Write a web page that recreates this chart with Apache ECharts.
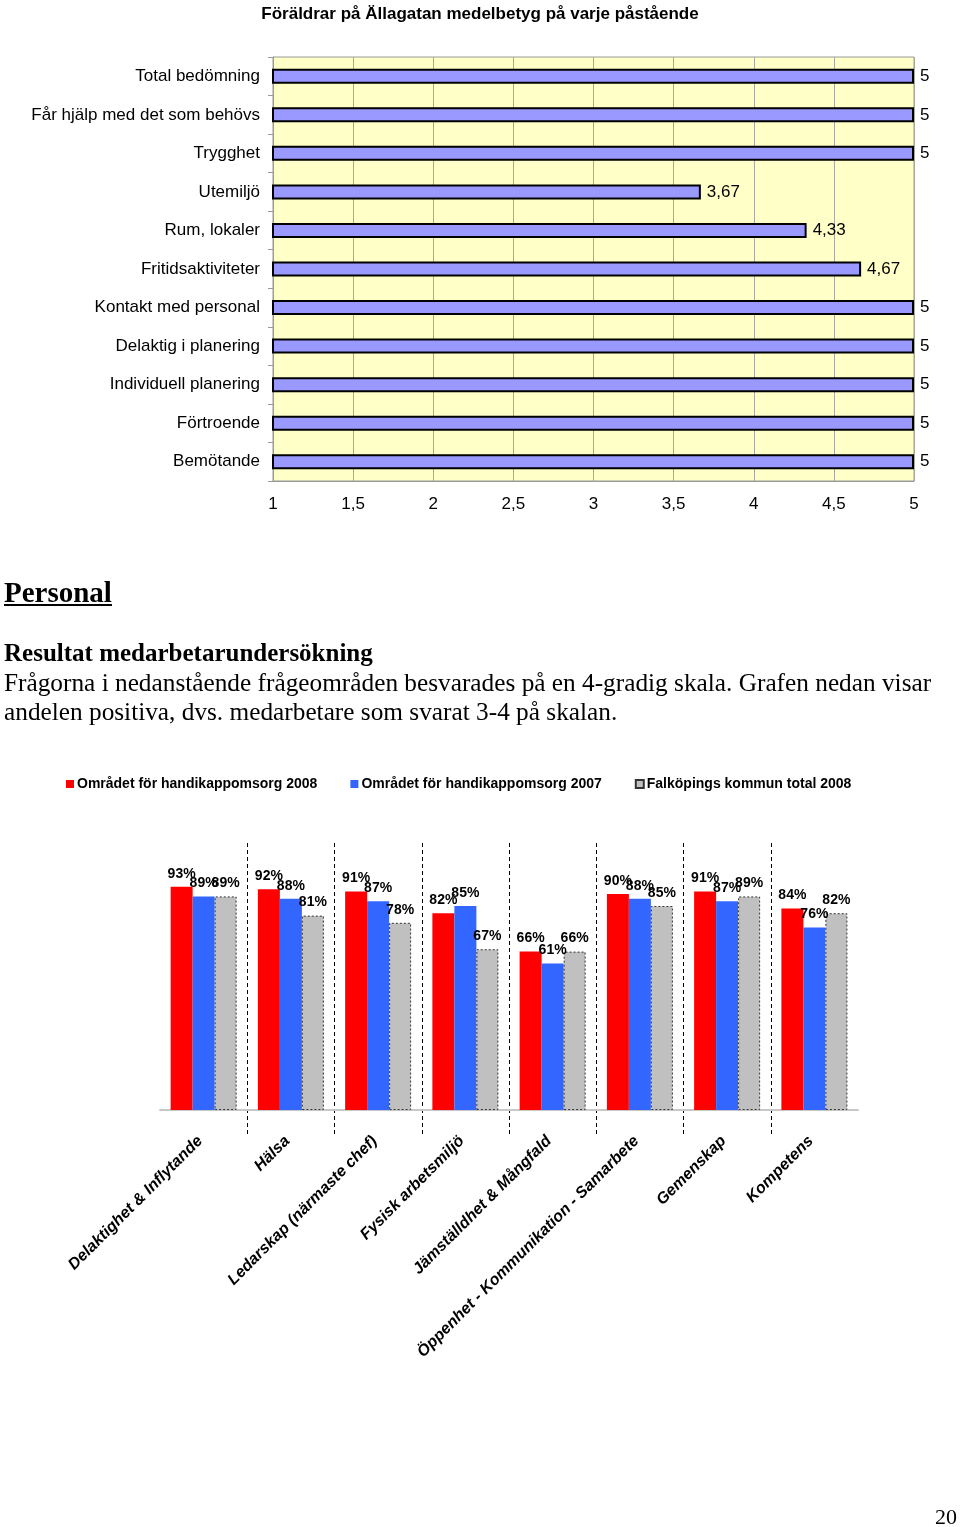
<!DOCTYPE html>
<html><head><meta charset="utf-8">
<script src="https://cdn.jsdelivr.net/npm/echarts@6/dist/echarts.min.js"></script>
<style>
html,body{margin:0;padding:0;background:#fff;}
#page{position:relative;width:960px;height:1527px;overflow:hidden;}
#chart{position:absolute;left:0;top:0;width:960px;height:1527px;}
.t{position:absolute;font-family:"Liberation Serif","Times New Roman",serif;color:#000;white-space:nowrap;}
</style></head>
<body><div id="page"><div id="chart"></div>
<div class="t" style="left:4px;top:577px;font-size:29px;line-height:30px;font-weight:bold;text-decoration:underline;">Personal</div>
<div class="t" style="left:4px;top:639px;font-size:25px;line-height:28px;font-weight:bold;">Resultat medarbetarundersökning</div>
<div class="t" style="left:4px;top:668px;font-size:25.3px;line-height:29.3px;">Frågorna i nedanstående frågeområden besvarades på en 4-gradig skala. Grafen nedan visar<br>andelen positiva, dvs. medarbetare som svarat 3-4 på skalan.</div>
<div class="t" style="left:935px;top:1505px;font-size:22px;line-height:24px;">20</div>
</div>
<script>
const parentTitle = 'Föräldrar på Ällagatan medelbetyg på varje påstående';
const parentCategories = ['Total bedömning','Får hjälp med det som behövs','Trygghet','Utemiljö','Rum, lokaler','Fritidsaktiviteter','Kontakt med personal','Delaktig i planering','Individuell planering','Förtroende','Bemötande'];
const parentScores = [5,5,5,3.67,4.33,4.67,5,5,5,5,5];

const staffCategories = ['Delaktighet & Inflytande','Hälsa','Ledarskap (närmaste chef)','Fysisk arbetsmiljö','Jämställdhet & Mångfald','Öppenhet - Kommunikation - Samarbete','Gemenskap','Kompetens'];
const seriesNames = ['Området för handikappomsorg 2008','Området för handikappomsorg 2007','Falköpings kommun total 2008'];
const area2008 = [93,92,91,82,66,90,91,84];
const area2007 = [89,88,87,85,61,88,87,76];
const municipality2008 = [89,81,78,67,66,85,89,82];

const comma = v => String(v).replace('.', ',');
const sans = '"Liberation Sans", Arial, sans-serif';

const pctLabel = {show:true, position:'top', distance:6, formatter:'{c}%', fontSize:14, fontWeight:'bold', color:'#000', fontFamily:sans};

const chart = echarts.init(document.getElementById('chart'), null, {renderer:'canvas'});
chart.setOption({
  animation:false,
  textStyle:{fontFamily:sans},
  title:{text:parentTitle,left:'center',top:1,textStyle:{fontFamily:sans,fontSize:17,fontWeight:'bold',color:'#000'}},
  legend:{
    left:61, top:772, itemWidth:8, itemHeight:8, itemGap:33, icon:'rect',
    data:seriesNames,
    textStyle:{fontFamily:sans,fontSize:14,fontWeight:'bold',color:'#000',padding:[0,0,0,-2]}
  },
  grid:[
    {left:273, top:57, width:641, height:424, show:true, backgroundColor:'#FFFFC8', borderColor:'#9a9a9a', borderWidth:1, containLabel:false},
    {left:160, top:843, width:698, height:292, containLabel:false}
  ],
  xAxis:[
    {gridIndex:0, type:'value', min:1, max:5, interval:0.5,
     axisLine:{show:true,lineStyle:{color:'#9a9a9a'}}, axisTick:{show:false},
     axisLabel:{formatter:comma, fontSize:17, color:'#000', margin:15, fontFamily:sans},
     splitLine:{show:true,lineStyle:{color:'#a8a8a0',width:1}}},
    {gridIndex:1, type:'category', data:staffCategories,
     axisLine:{show:true,onZero:true,lineStyle:{color:'#c8c8c8',width:2}},
     axisTick:{show:false},
     axisLabel:{rotate:45, interval:0, fontSize:16, fontWeight:'bold', fontStyle:'italic', color:'#000', margin:0, padding:[0,5,0,0], fontFamily:sans},
     splitLine:{show:true, showMinLine:false, showMaxLine:false, interval:0, lineStyle:{color:'#000',width:1,type:[4,3]}}}
  ],
  yAxis:[
    {gridIndex:0, type:'category', data:parentCategories, inverse:true,
     axisLine:{show:true,lineStyle:{color:'#9a9a9a'}},
     axisTick:{show:true,length:5,lineStyle:{color:'#9a9a9a'}},
     axisLabel:{fontSize:17,color:'#000',margin:13,fontFamily:sans},
     splitLine:{show:false}},
    {gridIndex:1, type:'value', min:-10.4, max:111.25, show:false, splitLine:{show:false}}
  ],
  series:[
    {type:'bar', xAxisIndex:0, yAxisIndex:0, data:parentScores, barWidth:15,
     itemStyle:{color:'#9999FF', borderColor:'#000', borderWidth:2},
     label:{show:true, position:'right', distance:6, formatter:p=>comma(p.value), fontSize:17, color:'#000', fontFamily:sans}},
    {name:seriesNames[0], type:'bar', xAxisIndex:1, yAxisIndex:1, data:area2008, barWidth:22, barGap:'0%',
     itemStyle:{color:'#FF0000'}, label:pctLabel},
    {name:seriesNames[1], type:'bar', xAxisIndex:1, yAxisIndex:1, data:area2007, barWidth:22, barGap:'0%',
     itemStyle:{color:'#3366FF'}, label:pctLabel},
    {name:seriesNames[2], type:'bar', xAxisIndex:1, yAxisIndex:1, data:municipality2008, barWidth:22, barGap:'0%',
     itemStyle:{color:'#C0C0C0', borderColor:'#333', borderWidth:1, borderType:[2,2]}, label:pctLabel}
  ]
});
</script>
</body></html>
